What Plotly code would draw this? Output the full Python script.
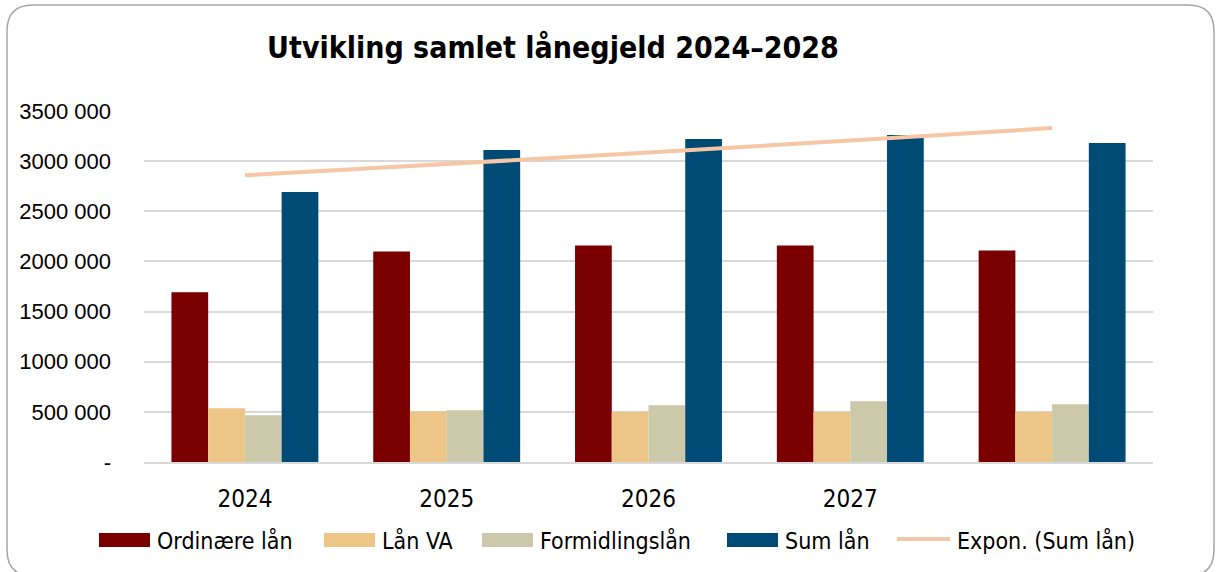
import numpy as np
import plotly.graph_objects as go

# ---- data ----
categories = ["2024", "2025", "2026", "2027", "2028"]
category_labels = ["2024", "2025", "2026", "2027", ""]
ordinaere = [1692000, 2100000, 2160000, 2160000, 2110000]
laan_va = [535000, 505000, 500000, 500000, 500000]
formidling = [465000, 515000, 565000, 605000, 575000]
sum_laan = [2692000, 3110000, 3220000, 3260000, 3182000]
y_ticks = [0, 500000, 1000000, 1500000, 2000000, 2500000, 3000000, 3500000]
y_tick_labels = ["-", "500 000", "1000 000", "1500 000", "2000 000", "2500 000", "3000 000", "3500 000"]
series_names = ["Ordinære lån", "Lån VA", "Formidlingslån", "Sum lån"]
series_colors = ["#7A0000", "#EDC587", "#CBC9A9", "#004B76"]
trend_name = "Expon. (Sum lån)"
trend_color = "#F6C6A5"

series_values = [ordinaere, laan_va, formidling, sum_laan]

# exponential trendline fitted to Sum lån (as in Excel "Expon.")
xi = np.arange(1, len(sum_laan) + 1)
b, a = np.polyfit(xi, np.log(np.array(sum_laan, dtype=float)), 1)
trend = np.exp(a + b * xi)

NARROW = "Liberation Sans Narrow, DejaVu Sans Condensed, Arial Narrow, sans-serif"

fig = go.Figure()
for name, vals, col in zip(series_names, series_values, series_colors):
    fig.add_trace(go.Bar(x=categories, y=vals, name=name,
                         marker=dict(color=col, line=dict(width=0))))
fig.add_trace(go.Scatter(x=categories, y=trend, mode="lines", name=trend_name,
                         line=dict(color=trend_color, width=4)))

W, H = 1217, 572
L, R, T, B = 144, 64, 111, 110
pw, ph = W - L - R, H - T - B


def px(x):
    return (x - L) / pw


def py(y):
    return (H - B - y) / ph


shapes = []
annotations = []

# rounded border around the whole chart
x0, y0, x1, y1, r = 7, 5, 1214, 576, 26
rx, ry = r / pw, r / ph
X0, X1, Y0, Y1 = px(x0), px(x1), py(y0), py(y1)
path = (f"M {X0+rx},{Y0} L {X1-rx},{Y0} Q {X1},{Y0} {X1},{Y0-ry} "
        f"L {X1},{Y1+ry} Q {X1},{Y1} {X1-rx},{Y1} L {X0+rx},{Y1} "
        f"Q {X0},{Y1} {X0},{Y1+ry} L {X0},{Y0-ry} Q {X0},{Y0} {X0+rx},{Y0} Z")
shapes.append(dict(type="path", path=path, xref="paper", yref="paper",
                   line=dict(color="#A6A6A6", width=1.5), fillcolor="rgba(0,0,0,0)", layer="below"))

# legend (Excel style: wide swatches)
swatch_x = [99, 324, 482, 727]
for sx, name, col in zip(swatch_x, series_names, series_colors):
    shapes.append(dict(type="rect", xref="paper", yref="paper",
                       x0=px(sx), x1=px(sx + 51), y0=py(547), y1=py(533),
                       fillcolor=col, line=dict(width=0)))
    annotations.append(dict(text=name, xref="paper", yref="paper", x=px(sx + 56), y=py(540),
                            xanchor="left", yanchor="middle", showarrow=False,
                            font=dict(family=NARROW, size=23, color="#000000")))
shapes.append(dict(type="line", xref="paper", yref="paper",
                   x0=px(897), x1=px(950), y0=py(539), y1=py(539),
                   line=dict(color=trend_color, width=4)))
annotations.append(dict(text=trend_name, xref="paper", yref="paper", x=px(955), y=py(540),
                        xanchor="left", yanchor="middle", showarrow=False,
                        font=dict(family=NARROW, size=23, color="#000000")))

fig.update_layout(
    width=W, height=H,
    margin=dict(l=L, r=R, t=T, b=B),
    paper_bgcolor="white", plot_bgcolor="white",
    barmode="group", bargap=0.272, bargroupgap=0,
    title=dict(text="<b>Utvikling samlet lånegjeld 2024–2028</b>",
               x=553 / W, xanchor="center", xref="container",
               y=1 - 47 / H, yanchor="middle", yref="container",
               font=dict(family=NARROW, size=30, color="#000000")),
    xaxis=dict(tickvals=categories, ticktext=category_labels, showgrid=False,
               showline=True, linecolor="#D9D9D9", linewidth=2,
               ticks="", ticklabelstandoff=14,
               tickfont=dict(family=NARROW, size=24, color="#000000")),
    yaxis=dict(range=[0, 3500000], tickvals=y_ticks, ticktext=y_tick_labels,
               showgrid=True, gridcolor="#D9D9D9", gridwidth=2,
               zeroline=False, showline=False, ticks="", ticklabelstandoff=32,
               tickfont=dict(family="Liberation Sans, Arial, sans-serif", size=22, color="#000000")),
    showlegend=False,
    shapes=shapes,
    annotations=annotations,
)

fig.write_html("out.html", config={"displayModeBar": False},
               post_script="document.body.style.margin='0';document.body.style.overflow='hidden';")
